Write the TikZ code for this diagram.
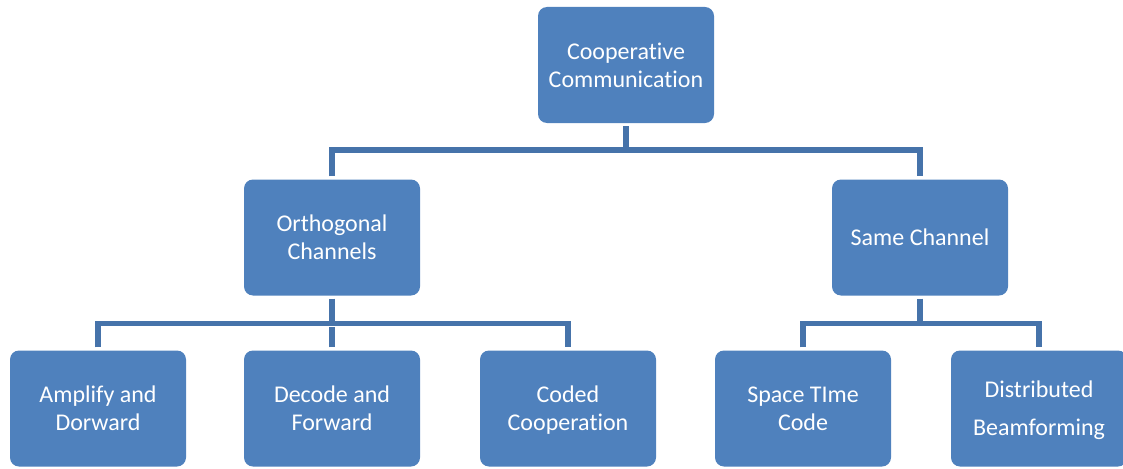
\documentclass[tikz,border=0pt]{standalone}
\usepackage{fontspec}
\setmainfont{Carlito}[Ligatures=NoCommon]
\definecolor{boxfill}{HTML}{4F81BD}
\definecolor{linecol}{HTML}{4673AA}
\newcommand{\ls}{\rule[-8.4pt]{0pt}{28pt}}
\newcommand{\fl}{\rule[-8.4pt]{0pt}{33pt}}
\tikzset{
  box/.style={draw=none, fill=boxfill, rounded corners=9pt, minimum width=176pt, minimum height=116pt,
    text=white, align=center, inner sep=0pt, font=\fontsize{24}{28}\selectfont},
  conn/.style={draw=linecol, line width=5.5pt, line join=miter, shorten <=3pt, shorten >=3pt}
}
\begin{document}
\begin{tikzpicture}[x=1pt,y=-1pt]
\useasboundingbox (0,0) rectangle (1123,468);
\begin{scope}
\clip (0,0) rectangle (1123,468);
\node[box] (top) at (626,65) {\fl Cooperative\\\ls Communication};
\node[box] (orth) at (332,237.5) {\fl Orthogonal\\\ls Channels};
\node[box] (same) at (920,237.5) {\fl Same Channel};
\node[box] (amp) at (98,408.5) {\fl Amplify and\\\ls Dorward};
\node[box] (dec) at (332,408.5) {\fl Decode and\\\ls Forward};
\node[box] (cod) at (568,408.5) {\fl Coded\\\ls Cooperation};
\node[box] (stc) at (803,408.5) {\fl Space TIme\\\ls Code};
\node[box, font=\fontsize{24}{38}\selectfont] (dist) at (1039,408.5) {\fl Distributed\\\ls Beamforming};
\coordinate (j1) at (626,150);
\coordinate (j2) at (332,323.5);
\coordinate (j3) at (920,323.5);
\draw[conn] (top.south) -- (j1);
\draw[conn] (orth.north) |- (j1) -| (same.north);
\draw[conn] (orth.south) -- (j2);
\draw[conn] (amp.north) |- (j2) -| (cod.north);
\draw[conn] (dec.north) -- (j2);
\draw[conn] (same.south) -- (j3);
\draw[conn] (stc.north) |- (j3) -| (dist.north);
\end{scope}
\end{tikzpicture}
\end{document}
